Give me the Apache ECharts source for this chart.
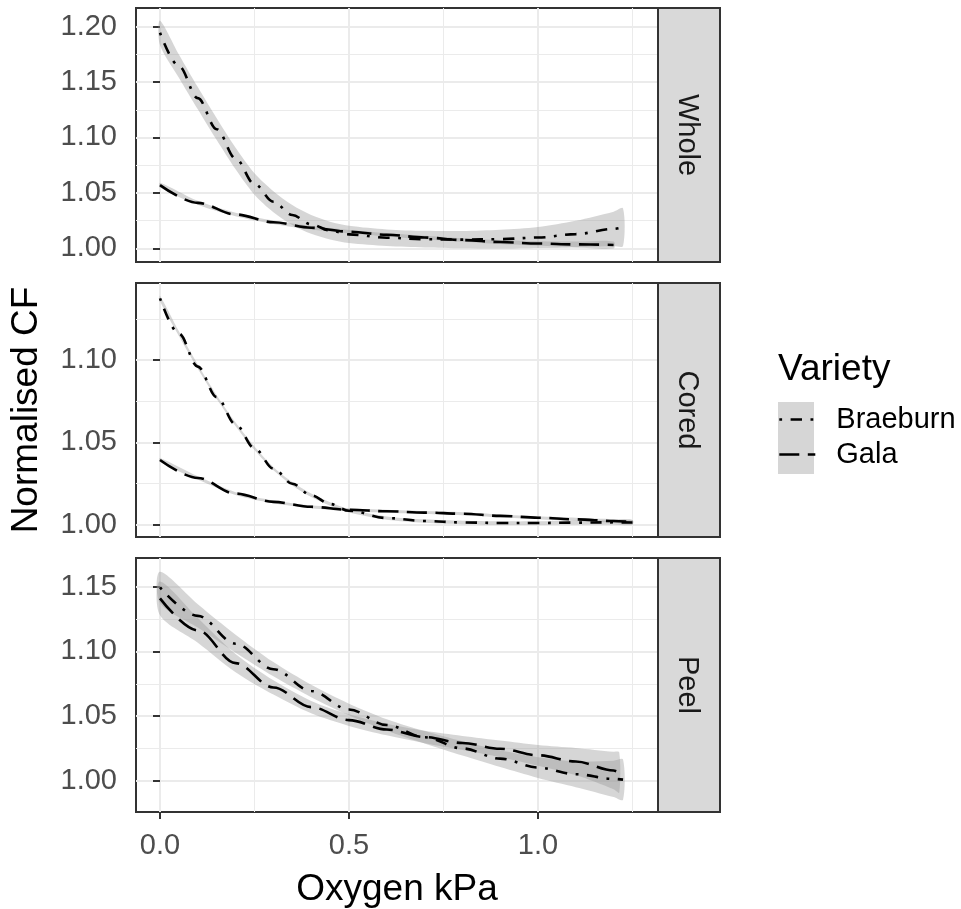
<!DOCTYPE html>
<html><head><meta charset="utf-8">
<script src="https://cdn.jsdelivr.net/npm/echarts@6/dist/echarts.min.js"></script>
<style>html,body{margin:0;padding:0;background:#fff}#c{width:961px;height:909px}</style>
</head><body><div id="c"></div>
<script>
// ---------- data ----------
const panels = ['Whole', 'Cored', 'Peel'];
const varieties = ['Braeburn', 'Gala'];
const xTicks = [0, 0.5, 1.0];
const xMinorTicks = [0.25, 0.75, 1.25];
const yTicksWhole = [1.00, 1.05, 1.10, 1.15, 1.20];
const yMinorWhole = [1.025, 1.075, 1.125, 1.175];
const yTicksCored = [1.00, 1.05, 1.10];
const yMinorCored = [1.025, 1.075, 1.125];
const yTicksPeel = [1.00, 1.05, 1.10, 1.15];
const yMinorPeel = [1.025, 1.075, 1.125];

// Whole
const wholeBraeburnX  = [0, 0.05, 0.1, 0.15, 0.2, 0.25, 0.3, 0.35, 0.4, 0.45, 0.5, 0.6, 0.7, 0.8, 0.9, 1.0, 1.1, 1.2, 1.225];
const wholeBraeburnY  = [1.1945, 1.1645, 1.1355, 1.1075, 1.0810, 1.0580, 1.0420, 1.0300, 1.0215, 1.0160, 1.0125, 1.0095, 1.0082, 1.0078, 1.0082, 1.0097, 1.0128, 1.0175, 1.0190];
const wholeBraeburnSe = [0.011, 0.0105, 0.010, 0.0098, 0.0097, 0.0097, 0.0095, 0.009, 0.0085, 0.008, 0.0078, 0.0075, 0.0075, 0.0078, 0.0085, 0.0095, 0.012, 0.0155, 0.017];
const wholeGalaX  = [0, 0.1, 0.2, 0.3, 0.4, 0.5, 0.6, 0.7, 0.8, 0.9, 1.0, 1.1, 1.2];
const wholeGalaY  = [1.0570, 1.0410, 1.0305, 1.0235, 1.0185, 1.0150, 1.0122, 1.0097, 1.0074, 1.0056, 1.0043, 1.0035, 1.0030];
const wholeGalaSe = [0.0022, 0.0018, 0.0016, 0.0015, 0.0015, 0.0015, 0.0015, 0.0015, 0.0016, 0.0018, 0.002, 0.0025, 0.0032];

// Cored
const coredBraeburnX  = [0, 0.05, 0.1, 0.15, 0.2, 0.25, 0.3, 0.35, 0.4, 0.45, 0.5, 0.6, 0.7, 0.8, 0.9, 1.0, 1.1, 1.2, 1.25];
const coredBraeburnY  = [1.1374, 1.1160, 1.0960, 1.0775, 1.0610, 1.0465, 1.0342, 1.0250, 1.0180, 1.0127, 1.0086, 1.0042, 1.0024, 1.0015, 1.0012, 1.0012, 1.0014, 1.0016, 1.0015];
const coredBraeburnSe = [0.0016, 0.0014, 0.0013, 0.0012, 0.0011, 0.0011, 0.001, 0.001, 0.001, 0.001, 0.001, 0.001, 0.001, 0.001, 0.001, 0.001, 0.0011, 0.0013, 0.0015];
const coredGalaX  = [0, 0.1, 0.2, 0.3, 0.4, 0.5, 0.6, 0.7, 0.8, 0.9, 1.0, 1.1, 1.2, 1.25];
const coredGalaY  = [1.0394, 1.0285, 1.0190, 1.0140, 1.0110, 1.0092, 1.0083, 1.0075, 1.0068, 1.0055, 1.0044, 1.0034, 1.0024, 1.0018];
const coredGalaSe = [0.0012, 0.001, 0.0009, 0.0009, 0.0009, 0.0009, 0.0009, 0.0009, 0.0009, 0.0009, 0.0009, 0.001, 0.0011, 0.0012];

// Peel
const peelBraeburnX  = [0, 0.1, 0.2, 0.3, 0.4, 0.5, 0.6, 0.7, 0.8, 0.9, 1.0, 1.1, 1.2, 1.225];
const peelBraeburnY  = [1.1495, 1.1275, 1.1060, 1.0863, 1.0695, 1.0552, 1.0432, 1.0337, 1.0251, 1.0172, 1.0103, 1.0052, 1.0016, 1.0010];
const peelBraeburnSe = [0.012, 0.009, 0.007, 0.0055, 0.0048, 0.0045, 0.0045, 0.0048, 0.0055, 0.0065, 0.008, 0.010, 0.014, 0.0155];
const peelGalaX  = [0, 0.1, 0.2, 0.3, 0.4, 0.5, 0.6, 0.7, 0.8, 0.9, 1.0, 1.1, 1.2, 1.215];
const peelGalaY  = [1.1410, 1.1163, 1.0910, 1.0722, 1.0570, 1.0470, 1.0397, 1.0339, 1.0293, 1.0248, 1.0198, 1.0150, 1.0080, 1.0065];
const peelGalaSe = [0.013, 0.0095, 0.007, 0.0055, 0.0048, 0.0045, 0.0045, 0.0048, 0.0055, 0.0065, 0.008, 0.0105, 0.0145, 0.0155];

// ---------- layout / style ----------
const FONT = "'Liberation Sans', Arial, Helvetica, sans-serif";
const GL = 136, GW = 522, GH = 254;
const TOPS = [8, 283, 558];
const STRIP_W = 62;
const X_MIN = -0.0635, X_MAX = 1.3175;
const Y_RANGES = [[0.9876, 1.2169], [0.9927, 1.1467], [0.976, 1.1722]];
const Y_TICKS = [yTicksWhole, yTicksCored, yTicksPeel];
const Y_MINOR = [yMinorWhole, yMinorCored, yMinorPeel];
const CURVES = [
  [[wholeBraeburnX, wholeBraeburnY, wholeBraeburnSe], [wholeGalaX, wholeGalaY, wholeGalaSe]],
  [[coredBraeburnX, coredBraeburnY, coredBraeburnSe], [coredGalaX, coredGalaY, coredGalaSe]],
  [[peelBraeburnX, peelBraeburnY, peelBraeburnSe], [peelGalaX, peelGalaY, peelGalaSe]]
];
const DASHES = { Braeburn: [2.8, 8.5, 11.4, 8.5], Gala: [20, 8.5] };
const LW = 2.6;
const RIBBON = 'rgba(153,153,153,0.4)';

const grids = [], xAxes = [], yAxes = [], series = [], graphics = [];

function ribbonRenderer(xs, ys, se) {
  return function (params, api) {
    if (params.dataIndex !== 0) return null;
    const upper = [], lower = [];
    for (let j = 0; j < xs.length; j++) {
      upper.push(api.coord([xs[j], ys[j] + se[j]]));
      lower.push(api.coord([xs[j], ys[j] - se[j]]));
    }
    const pts = upper.concat(lower.reverse());
    return { type: 'polygon', shape: { points: pts, smooth: 0.3 },
      style: { fill: RIBBON, stroke: null } };
  };
}

panels.forEach((p, i) => {
  grids.push({ left: GL, top: TOPS[i], width: GW, height: GH, show: true,
    backgroundColor: '#fff', borderColor: '#333', borderWidth: 2 });
  const bottom = i === panels.length - 1;
  xAxes.push({
    type: 'value', gridIndex: i, min: X_MIN, max: X_MAX, position: 'bottom',
    axisLine: { show: false },
    axisTick: { show: bottom, customValues: xTicks, length: 7, lineStyle: { color: '#333', width: 2 } },
    axisLabel: { show: bottom, customValues: xTicks, formatter: v => v.toFixed(1), margin: 19,
      color: '#4d4d4d', fontSize: 29, fontFamily: FONT },
    splitLine: { show: true, lineStyle: { color: '#ebebeb', width: 2 } },
    name: bottom ? 'Oxygen kPa' : '', nameLocation: 'middle', nameGap: 59,
    nameTextStyle: { fontSize: 37, color: '#000', fontFamily: FONT }
  });
  xAxes.push({
    type: 'value', gridIndex: i, min: X_MIN, max: X_MAX, position: 'top',
    axisLine: { show: false },
    axisTick: { show: false, customValues: xMinorTicks },
    axisLabel: { show: false, customValues: xMinorTicks },
    splitLine: { show: true, lineStyle: { color: '#ebebeb', width: 1 } }
  });
  yAxes.push({
    type: 'value', gridIndex: i, min: Y_RANGES[i][0], max: Y_RANGES[i][1], position: 'left',
    axisLine: { show: false },
    axisTick: { show: true, customValues: Y_TICKS[i], length: 7, lineStyle: { color: '#333', width: 2 } },
    axisLabel: { customValues: Y_TICKS[i], formatter: v => v.toFixed(2), margin: 19,
      color: '#4d4d4d', fontSize: 29, fontFamily: FONT },
    splitLine: { show: true, lineStyle: { color: '#ebebeb', width: 2 } },
    name: i === 1 ? 'Normalised CF' : '', nameLocation: 'middle', nameGap: 91,
    nameTextStyle: { fontSize: 37, color: '#000', fontFamily: FONT }
  });
  yAxes.push({
    type: 'value', gridIndex: i, min: Y_RANGES[i][0], max: Y_RANGES[i][1], position: 'right',
    axisLine: { show: false },
    axisTick: { show: false, customValues: Y_MINOR[i] },
    axisLabel: { show: false, customValues: Y_MINOR[i] },
    splitLine: { show: true, lineStyle: { color: '#ebebeb', width: 1 } }
  });

  varieties.forEach((v, k) => {
    const [xs, ys, se] = CURVES[i][k];
    series.push({
      type: 'custom', name: v + ' ' + p + ' band', coordinateSystem: 'cartesian2d',
      xAxisIndex: 2 * i, yAxisIndex: 2 * i, silent: true, animation: false,
      data: xs.map((x, j) => [x, ys[j] - se[j], ys[j] + se[j]]),
      encode: { x: 0, y: [1, 2] },
      renderItem: ribbonRenderer(xs, ys, se)
    });
    series.push({
      type: 'line', name: v, xAxisIndex: 2 * i, yAxisIndex: 2 * i, symbol: 'none',
      smooth: 0.35, smoothMonotone: 'x', silent: true, animation: false,
      data: xs.map((x, j) => [x, ys[j]]),
      lineStyle: { color: '#000', width: LW, type: DASHES[v], cap: 'butt' },
      itemStyle: { color: '#000' }
    });
  });

  // facet strip
  graphics.push({ type: 'rect', x: GL + GW, y: TOPS[i],
    shape: { x: 0, y: 0, width: STRIP_W, height: GH },
    style: { fill: '#d9d9d9', stroke: '#333', lineWidth: 2 }, z: 10 });
  graphics.push({ type: 'text', x: GL + GW + STRIP_W / 2 - 2, y: TOPS[i] + GH / 2,
    rotation: -Math.PI / 2,
    style: { text: p, fontSize: 29, fontFamily: FONT, fill: '#1a1a1a', align: 'center', verticalAlign: 'middle' }, z: 11 });
});

// legend key background
graphics.push({ type: 'rect', x: 778, y: 402, shape: { x: 0, y: 0, width: 36, height: 72 },
  style: { fill: '#d6d6d6' }, z: 0 });

const chart = echarts.init(document.getElementById('c'), null, { renderer: 'canvas' });
chart.setOption({
  animation: false,
  backgroundColor: '#fff',
  textStyle: { fontFamily: FONT },
  title: { text: 'Variety', left: 778, top: 351, padding: 0,
    textStyle: { fontSize: 37, fontWeight: 'normal', color: '#000', fontFamily: FONT } },
  legend: {
    data: varieties, orient: 'vertical', left: 778, top: 405, padding: 0,
    itemWidth: 36, itemHeight: 35, itemGap: 6, selectedMode: false,
    textStyle: { fontSize: 29, color: '#000', fontFamily: FONT, padding: [0, 0, 0, 16] },
    itemStyle: { opacity: 0 },
    lineStyle: { width: 'inherit' }, z: 5
  },
  grid: grids, xAxis: xAxes, yAxis: yAxes, series: series, graphic: graphics
});
</script></body></html>
